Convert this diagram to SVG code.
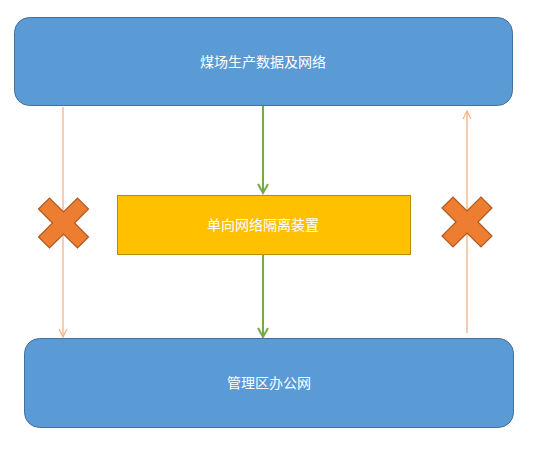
<svg xmlns="http://www.w3.org/2000/svg" width="536" height="458" viewBox="0 0 536 458">
<defs>
<style>
.blue{fill:#5B9BD5;stroke:#41719C;stroke-width:1}
.yellow{fill:#FFC000;stroke:#BC8C00;stroke-width:1}
.cross{fill:#ED7D31;stroke:#AE5A21;stroke-width:1.2}
.lbl{font-family:"Microsoft YaHei","Noto Sans CJK SC",sans-serif;font-size:14px;fill:#FFFFFF;text-anchor:middle}
.oline{stroke:#F4B183;stroke-width:1.3;fill:none}
.gline{stroke:#70AD47;stroke-width:2;fill:none}
</style>
<marker id="oa" markerWidth="10" markerHeight="10" refX="9" refY="5" orient="auto" markerUnits="userSpaceOnUse">
<path d="M1,1 L9,5 L1,9" fill="none" stroke="#F4B183" stroke-width="1.2"/>
</marker>
<marker id="ga" markerWidth="12" markerHeight="12" refX="10" refY="6" orient="auto" markerUnits="userSpaceOnUse">
<path d="M1,1 L10,6 L1,11" fill="none" stroke="#70AD47" stroke-width="2"/>
</marker>
<polygon id="x" points="-25,-14 -14,-25 0,-11 14,-25 25,-14 11,0 25,14 14,25 0,11 -14,25 -25,14 -11,0"/>
</defs>
<rect width="536" height="458" fill="#FFFFFF"/>
<g id="connectors">
<line class="oline" x1="63" y1="107" x2="63" y2="337" marker-end="url(#oa)"/>
<line class="oline" x1="467" y1="333" x2="467" y2="111" marker-end="url(#oa)"/>
<line class="gline" x1="263" y1="106" x2="263" y2="193" marker-end="url(#ga)"/>
<line class="gline" x1="263" y1="254" x2="263" y2="337" marker-end="url(#ga)"/>
</g>
<g id="top">
<rect class="blue" x="14.5" y="17.5" width="498" height="88" rx="15"/>
<text class="lbl" x="263" y="67">煤场生产数据及网络</text>
</g>
<g id="device">
<rect class="yellow" x="117.5" y="195.5" width="293" height="59"/>
<text class="lbl" x="263" y="230">单向网络隔离装置</text>
</g>
<g id="bottom">
<rect class="blue" x="24.5" y="338.5" width="489" height="89" rx="15"/>
<text class="lbl" x="269" y="388">管理区办公网</text>
</g>
<g id="crossLeft">
<use href="#x" class="cross" transform="translate(63.5,223)"/>
</g>
<g id="crossRight">
<use href="#x" class="cross" transform="translate(467,222)"/>
</g>
</svg>
